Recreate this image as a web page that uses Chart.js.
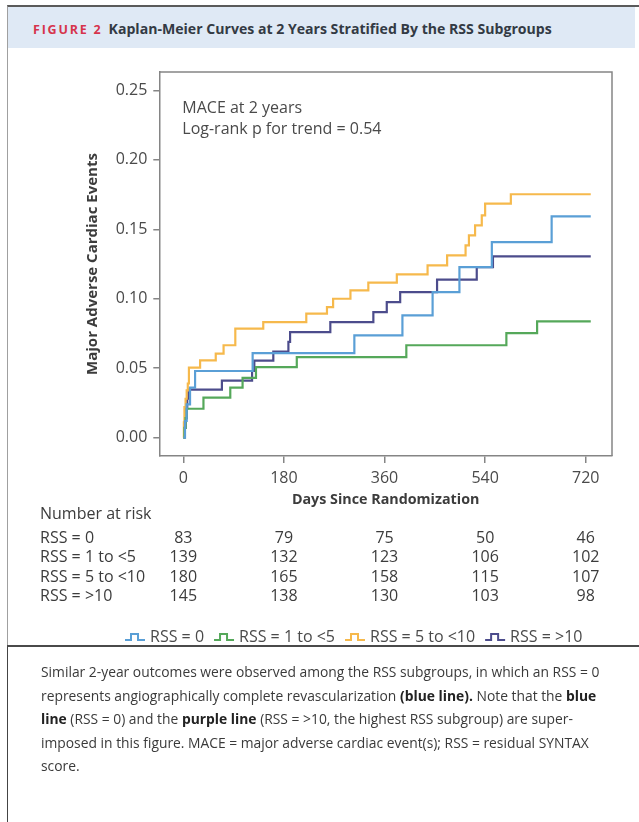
<!DOCTYPE html>
<html>
<head>
<meta charset="utf-8">
<script src="https://cdn.jsdelivr.net/npm/chart.js@4.4.1/dist/chart.umd.min.js"></script>
<style>
  html, body { margin: 0; padding: 0; background: #fff; }
  body { width: 639px; height: 822px; position: relative; overflow: hidden; font-family: "Open Sans", sans-serif; }
  #frame { position: absolute; left: 7px; top: 5px; width: 632px; height: 641px; border-top: 2px solid #5a5a5a; border-left: 1px solid #a0a0a0; }
  #head { position: absolute; left: 8px; top: 7px; width: 627px; height: 41px; background: #dfe9f5; }
  #head .t { position: absolute; left: 25px; top: 0; line-height: 44px; font-size: 14.1px; font-weight: 700; color: #333a44; white-space: nowrap; }
  #head .fig { color: #d6344c; letter-spacing: 1.8px; margin-right: 6px; font-size: 12.5px; }
  #chartBox { position: absolute; left: 0; top: 48px; width: 639px; height: 598px; }
  #sep { position: absolute; left: 7px; top: 645px; width: 632px; height: 2px; background: #4a4a4a; }
  #caption { position: absolute; left: 7px; top: 647px; width: 632px; height: 175px; border-left: 1px solid #444; box-sizing: border-box;
             padding: 13px 0 0 33px; font-size: 13.85px; line-height: 23.5px; color: #3a3a3a; white-space: nowrap; }
  #caption b { color: #222; }
</style>
</head>
<body>
<div id="frame"></div>
<div id="head"><div class="t"><span class="fig">FIGURE 2</span>Kaplan-Meier Curves at 2 Years Stratified By the RSS Subgroups</div></div>
<div id="chartBox"><canvas id="chart" width="639" height="598"></canvas></div>
<div id="sep"></div>
<div id="caption">
Similar 2-year outcomes were observed among the RSS subgroups, in which an RSS = 0<br>
represents angiographically complete revascularization <b>(blue line).</b> Note that the <b>blue</b><br>
<b>line</b> (RSS = 0) and the <b>purple line</b> (RSS = &gt;10, the highest RSS subgroup) are super-<br>
imposed in this figure. MACE = major adverse cardiac event(s); RSS = residual SYNTAX<br>
score.
</div>
<script>
// series labels and colours
const seriesLabels = ["RSS = 0", "RSS = 1 to <5", "RSS = 5 to <10", "RSS = >10"];
const seriesColors = ["#5a9fd6", "#55a85a", "#f6b94c", "#4c4c8c"];

// KM curves: day of each step and cumulative event rate after it
const rss0Days = [0, 3, 6, 12, 21, 124, 306, 392, 446, 494, 552, 659, 729];
const rss0Rate = [0, 0.012, 0.024, 0.036, 0.048, 0.0608, 0.0736, 0.088, 0.1048, 0.1228, 0.1408, 0.1593, 0.1593];

const rss1Days = [0, 2, 4, 6, 36, 84, 106, 130, 203, 399, 578, 633, 729];
const rss1Rate = [0, 0.007, 0.014, 0.0208, 0.0288, 0.036, 0.0430, 0.0508, 0.058, 0.0665, 0.0753, 0.0837, 0.0837];

const rss5Days = [0, 1, 2, 4, 6, 8, 10, 30, 58, 72, 93, 143, 220, 257, 268, 299, 331, 382, 437, 472, 505, 511, 522, 534, 540, 586, 729];
const rss5Rate = [0, 0.011, 0.022, 0.028, 0.034, 0.039, 0.0504, 0.0556, 0.0605, 0.0665, 0.0785, 0.0832, 0.0893, 0.094, 0.1, 0.106, 0.1116, 0.1176, 0.124, 0.1312, 0.1384, 0.1456, 0.1528, 0.16, 0.1685, 0.1752, 0.1752];

const rss10Days = [0, 2, 4, 6, 7, 9, 69, 123, 127, 161, 188, 191, 263, 340, 364, 388, 454, 525, 554, 729];
const rss10Rate = [0, 0.007, 0.014, 0.021, 0.028, 0.0346, 0.041, 0.048, 0.0555, 0.062, 0.069, 0.076, 0.0832, 0.0904, 0.0976, 0.1048, 0.1137, 0.1228, 0.1305, 0.1305];

// axes
const xTicks = [0, 180, 360, 540, 720];
const yTicks = [0, 0.05, 0.10, 0.15, 0.20, 0.25];

// number at risk
const riskDays = [0, 180, 360, 540, 720];
const riskRss0 = [83, 79, 75, 50, 46];
const riskRss1 = [139, 132, 123, 106, 102];
const riskRss5 = [180, 165, 158, 115, 107];
const riskRss10 = [145, 138, 130, 103, 98];

const noteLines = ["MACE at 2 years", "Log-rank p for trend = 0.54"];

const axisColor = "#858585";
const textColor = "#4a4a4a";

const curves = [[rss0Days, rss0Rate], [rss1Days, rss1Rate], [rss5Days, rss5Rate], [rss10Days, rss10Rate]];
const riskRows = [riskRss0, riskRss1, riskRss5, riskRss10];

const decor = {
  id: "decor",
  afterDraw(chart) {
    const { ctx, chartArea: a, scales: { x } } = chart;
    ctx.save();
    ctx.strokeStyle = axisColor;
    ctx.lineWidth = 1.5;
    ctx.beginPath();
    ctx.moveTo(a.left, a.top);
    ctx.lineTo(a.right, a.top);
    ctx.lineTo(a.right, a.bottom);
    ctx.stroke();

    ctx.fillStyle = textColor;
    ctx.font = '16px "Open Sans"';
    ctx.textAlign = "left";
    ctx.textBaseline = "alphabetic";
    ctx.fillText(noteLines[0], a.left + 23, 65);
    ctx.fillText(noteLines[1], a.left + 23, 85.5);

    // number at risk table
    ctx.fillStyle = "#3c3c3c";
    ctx.textBaseline = "middle";
    ctx.fillText("Number at risk", 40, 466);
    const rowY = [490, 509.5, 529, 548.5];
    riskRows.forEach((row, r) => {
      ctx.textAlign = "left";
      ctx.fillText(seriesLabels[r], 40, rowY[r]);
      ctx.textAlign = "center";
      row.forEach((n, i) => ctx.fillText(String(n), x.getPixelForValue(riskDays[i]), rowY[r]));
    });

    // legend with step glyphs
    let lx = 125;
    const ly = 589;
    ctx.textAlign = "left";
    chart.data.datasets.forEach((ds) => {
      ctx.strokeStyle = ds.borderColor;
      ctx.lineWidth = 2;
      ctx.beginPath();
      ctx.moveTo(lx, ly + 3);
      ctx.lineTo(lx + 6, ly + 3);
      ctx.lineTo(lx + 6, ly - 3);
      ctx.lineTo(lx + 13, ly - 3);
      ctx.lineTo(lx + 13, ly + 3);
      ctx.lineTo(lx + 20, ly + 3);
      ctx.stroke();
      ctx.fillStyle = textColor;
      ctx.fillText(ds.label, lx + 25, ly);
      lx += 25 + ctx.measureText(ds.label).width + 10;
    });
    ctx.restore();
  }
};

new Chart(document.getElementById("chart"), {
  type: "line",
  data: {
    datasets: curves.map(([d, r], i) => ({
      label: seriesLabels[i],
      data: d.map((day, k) => ({ x: day, y: r[k] })),
      borderColor: seriesColors[i],
      borderWidth: 2.2,
      pointRadius: 0,
      stepped: "before",
      fill: false
    }))
  },
  options: {
    responsive: false,
    animation: false,
    events: [],
    layout: { padding: { left: 0, top: 24, right: 27, bottom: 128 } },
    plugins: { legend: { display: false }, tooltip: { enabled: false } },
    scales: {
      x: {
        type: "linear",
        min: -43,
        max: 767,
        afterBuildTicks: (axis) => { axis.ticks = xTicks.map(v => ({ value: v })); },
        afterFit: (axis) => { axis.height = 62; },
        grid: { drawOnChartArea: false, drawTicks: true, tickLength: 7, color: axisColor, lineWidth: 1.5 },
        border: { display: true, color: axisColor, width: 1.5 },
        ticks: { color: textColor, font: { family: "Open Sans", size: 16 }, padding: 6, maxRotation: 0 },
        title: { display: true, text: "Days Since Randomization", color: "#3c3c3c",
                 font: { family: "Open Sans", size: 14.3, weight: "bold" }, padding: { top: 0, bottom: 9 } }
      },
      y: {
        min: -0.0132,
        max: 0.2632,
        afterBuildTicks: (axis) => { axis.ticks = yTicks.map(v => ({ value: v })); },
        afterFit: (axis) => { axis.width = 159.3; },
        grid: { drawOnChartArea: false, drawTicks: true, tickLength: 6, color: axisColor, lineWidth: 1.5 },
        border: { display: true, color: axisColor, width: 1.5 },
        ticks: { color: textColor, font: { family: "Open Sans", size: 16 }, padding: 6, callback: (v) => v.toFixed(2) },
        title: { display: true, text: "Major Adverse Cardiac Events", color: "#3c3c3c",
                 font: { family: "Open Sans", size: 15, weight: "bold" }, padding: { top: 84, bottom: 0 } }
      }
    }
  },
  plugins: [decor]
});
</script>
</body>
</html>
